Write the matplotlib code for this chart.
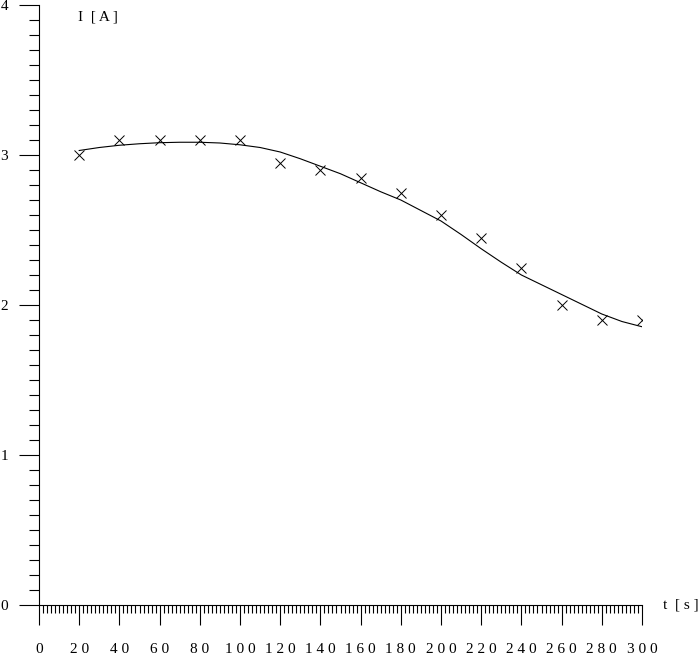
import numpy as np
import matplotlib
matplotlib.use('Agg')
import matplotlib.pyplot as plt

# Measured points
t = [20, 40, 60, 80, 100, 120, 140, 160, 180, 200, 220, 240, 260, 280, 300]
current = [3.0, 3.1, 3.1, 3.1, 3.1, 2.95, 2.9, 2.85, 2.75, 2.6, 2.45, 2.25, 2.0, 1.9, 1.9]

# fitted curve
fit_t = [20, 30, 40, 50, 60, 70, 80, 90, 100, 110, 120, 130, 140, 150, 160,
         170, 180, 190, 200, 210, 220, 230, 240, 250, 260, 270, 280, 290, 300]
fit_i = [3.03, 3.05, 3.065, 3.075, 3.082, 3.085, 3.085, 3.08, 3.068, 3.05, 3.02,
         2.975, 2.925, 2.875, 2.815, 2.755, 2.70, 2.63, 2.56, 2.47, 2.375, 2.285,
         2.20, 2.135, 2.07, 2.005, 1.94, 1.89, 1.855]

x_major = list(range(0, 301, 20))
y_major = [0, 1, 2, 3, 4]

fig = plt.figure(figsize=(6.98, 6.61), dpi=100)
ax = fig.add_axes([39/698, 56/661, 603/698, 600/661])

ax.plot(fit_t, fit_i, color='black', linewidth=0.8)
ax.plot(t, current, linestyle='none', marker='x', markersize=7.5,
        markeredgewidth=0.7, color='black')

ax.set_xlim(0, 300)
ax.set_ylim(0, 4)
for s in ['top', 'right']:
    ax.spines[s].set_visible(False)
for s in ['left', 'bottom']:
    ax.spines[s].set_linewidth(0.8)

ax.set_xticks(x_major)
ax.set_xticks(range(0, 301, 2), minor=True)
ax.set_yticks(y_major)
ax.set_yticks(np.arange(0, 4.01, 0.1), minor=True)
ax.set_xticklabels([' '.join(str(v)) for v in x_major])
ax.set_yticklabels([str(v) for v in y_major])

ax.tick_params(axis='x', which='major', direction='out', length=14.4, width=0.8, pad=13, labelsize=11)
ax.tick_params(axis='x', which='minor', direction='out', length=5.8, width=0.8)
ax.tick_params(axis='y', which='major', direction='out', length=14.4, width=0.8, pad=8, labelsize=11)
ax.tick_params(axis='y', which='minor', direction='out', length=7.2, width=0.8)
for lab in ax.get_xticklabels() + ax.get_yticklabels():
    lab.set_family('Liberation Serif')

fig.text(78/698, 1 - 17/661, 'I  [ A ]', family='Liberation Serif', fontsize=11, va='center', ha='left')
fig.text(663/698, 1 - 605/661, 't  [ s ]', family='Liberation Serif', fontsize=11, va='center', ha='left')

fig.savefig('out.png', dpi=100)
